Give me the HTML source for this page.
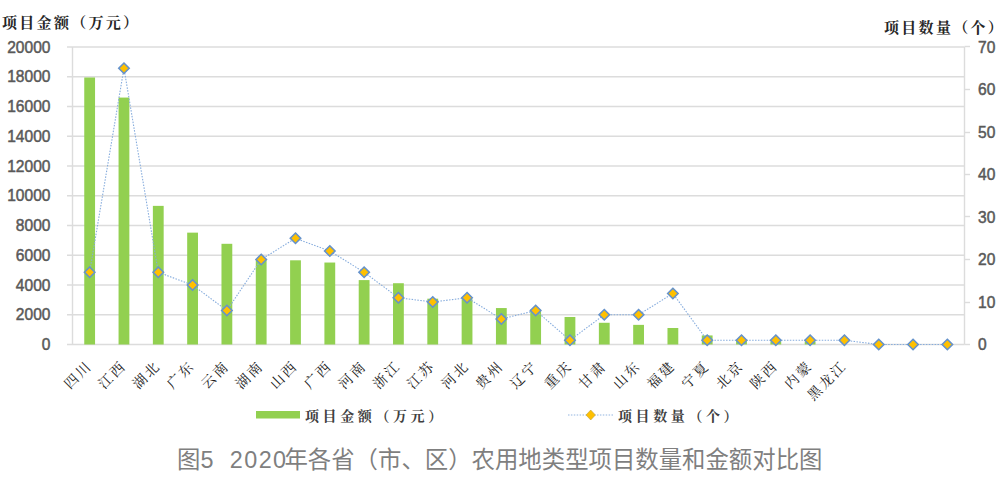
<!DOCTYPE html>
<html><head><meta charset="utf-8"><style>
html,body{margin:0;padding:0;background:#fff;}
body{width:1005px;height:482px;overflow:hidden;position:relative;}
svg{position:absolute;left:0;top:0;display:block;}
.num{font-family:"Liberation Sans",Arial,sans-serif;font-size:16.4px;fill:#595959;stroke:#595959;stroke-width:0.5px;}
.ttl{font-family:"Liberation Serif","Noto Serif CJK SC",serif;font-weight:bold;font-size:15px;fill:#262626;letter-spacing:2.3px;}
.lab{font-family:"Liberation Serif","Noto Serif CJK SC",serif;font-size:14px;font-weight:normal;fill:#1a1a1a;letter-spacing:2.3px;}
.leg{font-family:"Liberation Serif","Noto Serif CJK SC",serif;font-weight:bold;font-size:14px;fill:#404040;letter-spacing:3.6px;}
.cap{position:absolute;left:0;top:0;font-family:"Liberation Sans","Noto Sans CJK SC",sans-serif;font-size:23.4px;color:#7f7f7f;white-space:nowrap;}
.d{letter-spacing:1.4px;}
.g{display:inline-block;width:15px;}
</style></head><body>
<svg width="1005" height="482" viewBox="0 0 1005 482">
<rect width="1005" height="482" fill="#fff"/>

<g stroke="#dcdcdc" stroke-width="1.4" fill="none">
<line x1="67.0" y1="314.75" x2="964.5" y2="314.75"/>
<line x1="67.0" y1="285.0" x2="964.5" y2="285.0"/>
<line x1="67.0" y1="255.25" x2="964.5" y2="255.25"/>
<line x1="67.0" y1="225.5" x2="964.5" y2="225.5"/>
<line x1="67.0" y1="195.75" x2="964.5" y2="195.75"/>
<line x1="67.0" y1="166.0" x2="964.5" y2="166.0"/>
<line x1="67.0" y1="136.25" x2="964.5" y2="136.25"/>
<line x1="67.0" y1="106.5" x2="964.5" y2="106.5"/>
<line x1="67.0" y1="76.75" x2="964.5" y2="76.75"/>
<line x1="67.0" y1="47.0" x2="964.5" y2="47.0"/>
<line x1="67.0" y1="344.5" x2="964.5" y2="344.5"/>
<line x1="72.5" y1="47.0" x2="72.5" y2="344.5"/>
<line x1="964.5" y1="47.0" x2="964.5" y2="344.5"/>
<line x1="964.5" y1="344.5" x2="970.0" y2="344.5"/>
<line x1="964.5" y1="302.5" x2="970.0" y2="302.5"/>
<line x1="964.5" y1="259.5" x2="970.0" y2="259.5"/>
<line x1="964.5" y1="216.5" x2="970.0" y2="216.5"/>
<line x1="964.5" y1="174.5" x2="970.0" y2="174.5"/>
<line x1="964.5" y1="132.5" x2="970.0" y2="132.5"/>
<line x1="964.5" y1="89.5" x2="970.0" y2="89.5"/>
<line x1="964.5" y1="46.5" x2="970.0" y2="46.5"/>
</g>
<g fill="#92d050">
<rect x="84.25" y="77.49" width="10.8" height="267.01"/>
<rect x="118.56" y="97.57" width="10.8" height="246.93"/>
<rect x="152.87" y="205.87" width="10.8" height="138.63"/>
<rect x="187.18" y="232.64" width="10.8" height="111.86"/>
<rect x="221.48" y="243.80" width="10.8" height="100.70"/>
<rect x="255.79" y="259.42" width="10.8" height="85.08"/>
<rect x="290.10" y="260.31" width="10.8" height="84.19"/>
<rect x="324.41" y="262.54" width="10.8" height="81.96"/>
<rect x="358.72" y="280.09" width="10.8" height="64.41"/>
<rect x="393.02" y="283.22" width="10.8" height="61.28"/>
<rect x="427.33" y="298.69" width="10.8" height="45.81"/>
<rect x="461.64" y="299.13" width="10.8" height="45.37"/>
<rect x="495.95" y="308.06" width="10.8" height="36.44"/>
<rect x="530.25" y="309.54" width="10.8" height="34.96"/>
<rect x="564.56" y="316.98" width="10.8" height="27.52"/>
<rect x="598.87" y="322.78" width="10.8" height="21.72"/>
<rect x="633.18" y="324.87" width="10.8" height="19.63"/>
<rect x="667.48" y="327.99" width="10.8" height="16.51"/>
<rect x="701.79" y="335.43" width="10.8" height="9.07"/>
<rect x="736.10" y="340.78" width="10.8" height="3.72"/>
<rect x="770.41" y="341.38" width="10.8" height="3.12"/>
<rect x="804.72" y="341.52" width="10.8" height="2.98"/>
</g>
<polyline points="89.65,272.25 123.96,68.25 158.27,272.25 192.58,285.00 226.88,310.50 261.19,259.50 295.50,238.25 329.81,251.00 364.12,272.25 398.42,297.75 432.73,302.00 467.04,297.75 501.35,319.00 535.65,310.50 569.96,340.25 604.27,314.75 638.58,314.75 672.88,293.50 707.19,340.25 741.50,340.25 775.81,340.25 810.12,340.25 844.42,340.25 878.73,344.50 913.04,344.50 947.35,344.50" fill="none" stroke="#86acdd" stroke-width="1.1" stroke-dasharray="1.5 1.4"/>
<g fill="#ffc000" stroke="#6592cb" stroke-width="1.6">
<path d="M89.65 267.05L94.85 272.25L89.65 277.45L84.45 272.25Z"/>
<path d="M123.96 63.05L129.16 68.25L123.96 73.45L118.76 68.25Z"/>
<path d="M158.27 267.05L163.47 272.25L158.27 277.45L153.07 272.25Z"/>
<path d="M192.58 279.80L197.78 285.00L192.58 290.20L187.38 285.00Z"/>
<path d="M226.88 305.30L232.08 310.50L226.88 315.70L221.68 310.50Z"/>
<path d="M261.19 254.30L266.39 259.50L261.19 264.70L255.99 259.50Z"/>
<path d="M295.50 233.05L300.70 238.25L295.50 243.45L290.30 238.25Z"/>
<path d="M329.81 245.80L335.01 251.00L329.81 256.20L324.61 251.00Z"/>
<path d="M364.12 267.05L369.32 272.25L364.12 277.45L358.92 272.25Z"/>
<path d="M398.42 292.55L403.62 297.75L398.42 302.95L393.22 297.75Z"/>
<path d="M432.73 296.80L437.93 302.00L432.73 307.20L427.53 302.00Z"/>
<path d="M467.04 292.55L472.24 297.75L467.04 302.95L461.84 297.75Z"/>
<path d="M501.35 313.80L506.55 319.00L501.35 324.20L496.15 319.00Z"/>
<path d="M535.65 305.30L540.85 310.50L535.65 315.70L530.45 310.50Z"/>
<path d="M569.96 335.05L575.16 340.25L569.96 345.45L564.76 340.25Z"/>
<path d="M604.27 309.55L609.47 314.75L604.27 319.95L599.07 314.75Z"/>
<path d="M638.58 309.55L643.78 314.75L638.58 319.95L633.38 314.75Z"/>
<path d="M672.88 288.30L678.08 293.50L672.88 298.70L667.68 293.50Z"/>
<path d="M707.19 335.05L712.39 340.25L707.19 345.45L701.99 340.25Z"/>
<path d="M741.50 335.05L746.70 340.25L741.50 345.45L736.30 340.25Z"/>
<path d="M775.81 335.05L781.01 340.25L775.81 345.45L770.61 340.25Z"/>
<path d="M810.12 335.05L815.32 340.25L810.12 345.45L804.92 340.25Z"/>
<path d="M844.42 335.05L849.62 340.25L844.42 345.45L839.22 340.25Z"/>
<path d="M878.73 339.30L883.93 344.50L878.73 349.70L873.53 344.50Z"/>
<path d="M913.04 339.30L918.24 344.50L913.04 349.70L907.84 344.50Z"/>
<path d="M947.35 339.30L952.55 344.50L947.35 349.70L942.15 344.50Z"/>
</g>
<text class="num" text-anchor="end" transform="translate(50.5,350.10) scale(0.95,1)">0</text>
<text class="num" text-anchor="end" transform="translate(50.5,320.35) scale(0.95,1)">2000</text>
<text class="num" text-anchor="end" transform="translate(50.5,290.60) scale(0.95,1)">4000</text>
<text class="num" text-anchor="end" transform="translate(50.5,260.85) scale(0.95,1)">6000</text>
<text class="num" text-anchor="end" transform="translate(50.5,231.10) scale(0.95,1)">8000</text>
<text class="num" text-anchor="end" transform="translate(50.5,201.35) scale(0.95,1)">10000</text>
<text class="num" text-anchor="end" transform="translate(50.5,171.60) scale(0.95,1)">12000</text>
<text class="num" text-anchor="end" transform="translate(50.5,141.85) scale(0.95,1)">14000</text>
<text class="num" text-anchor="end" transform="translate(50.5,112.10) scale(0.95,1)">16000</text>
<text class="num" text-anchor="end" transform="translate(50.5,82.35) scale(0.95,1)">18000</text>
<text class="num" text-anchor="end" transform="translate(50.5,52.60) scale(0.95,1)">20000</text>
<text class="num" transform="translate(978,350.10) scale(0.95,1)">0</text>
<text class="num" transform="translate(978,307.60) scale(0.95,1)">10</text>
<text class="num" transform="translate(978,265.10) scale(0.95,1)">20</text>
<text class="num" transform="translate(978,222.60) scale(0.95,1)">30</text>
<text class="num" transform="translate(978,180.10) scale(0.95,1)">40</text>
<text class="num" transform="translate(978,137.60) scale(0.95,1)">50</text>
<text class="num" transform="translate(978,95.10) scale(0.95,1)">60</text>
<text class="num" transform="translate(978,52.60) scale(0.95,1)">70</text>
<text class="ttl" x="2" y="28.4">项目金额（万元）</text>
<text class="ttl" x="884" y="33">项目数量（个）</text>
<text class="lab" text-anchor="end" transform="translate(92.95,366.7) rotate(-45)">四川</text>
<text class="lab" text-anchor="end" transform="translate(127.26,366.7) rotate(-45)">江西</text>
<text class="lab" text-anchor="end" transform="translate(161.57,366.7) rotate(-45)">湖北</text>
<text class="lab" text-anchor="end" transform="translate(195.88,366.7) rotate(-45)">广东</text>
<text class="lab" text-anchor="end" transform="translate(230.18,366.7) rotate(-45)">云南</text>
<text class="lab" text-anchor="end" transform="translate(264.49,366.7) rotate(-45)">湖南</text>
<text class="lab" text-anchor="end" transform="translate(298.80,366.7) rotate(-45)">山西</text>
<text class="lab" text-anchor="end" transform="translate(333.11,366.7) rotate(-45)">广西</text>
<text class="lab" text-anchor="end" transform="translate(367.42,366.7) rotate(-45)">河南</text>
<text class="lab" text-anchor="end" transform="translate(401.72,366.7) rotate(-45)">浙江</text>
<text class="lab" text-anchor="end" transform="translate(436.03,366.7) rotate(-45)">江苏</text>
<text class="lab" text-anchor="end" transform="translate(470.34,366.7) rotate(-45)">河北</text>
<text class="lab" text-anchor="end" transform="translate(504.65,366.7) rotate(-45)">贵州</text>
<text class="lab" text-anchor="end" transform="translate(538.95,366.7) rotate(-45)">辽宁</text>
<text class="lab" text-anchor="end" transform="translate(573.26,366.7) rotate(-45)">重庆</text>
<text class="lab" text-anchor="end" transform="translate(607.57,366.7) rotate(-45)">甘肃</text>
<text class="lab" text-anchor="end" transform="translate(641.88,366.7) rotate(-45)">山东</text>
<text class="lab" text-anchor="end" transform="translate(676.18,366.7) rotate(-45)">福建</text>
<text class="lab" text-anchor="end" transform="translate(710.49,366.7) rotate(-45)">宁夏</text>
<text class="lab" text-anchor="end" transform="translate(744.80,366.7) rotate(-45)">北京</text>
<text class="lab" text-anchor="end" transform="translate(779.11,366.7) rotate(-45)">陕西</text>
<text class="lab" text-anchor="end" transform="translate(813.42,366.7) rotate(-45)">内蒙</text>
<text class="lab" text-anchor="end" transform="translate(847.72,366.7) rotate(-45)">黑龙江</text>
<rect x="256" y="411" width="44" height="7.5" fill="#92d050"/>
<text class="leg" x="305" y="421">项目金额（万元）</text>
<line x1="568" y1="415" x2="613" y2="415" stroke="#94b5e0" stroke-width="1.2" stroke-dasharray="1.5 1.4"/>
<path d="M590.7 410L595.4 415L590.7 420L586 415Z" fill="#ffc000" stroke="#b8a040" stroke-width="0.6"/>
<text class="leg" x="618" y="421">项目数量（个）</text>
</svg>
<div class="cap" style="left:177px;top:441px;">图<span class="d">5</span><span class="g"></span><span class="d" style="margin-right:-3px">2020</span>年各省（市、区）农用地类型项目数量和金额对比图</div>
</body></html>
